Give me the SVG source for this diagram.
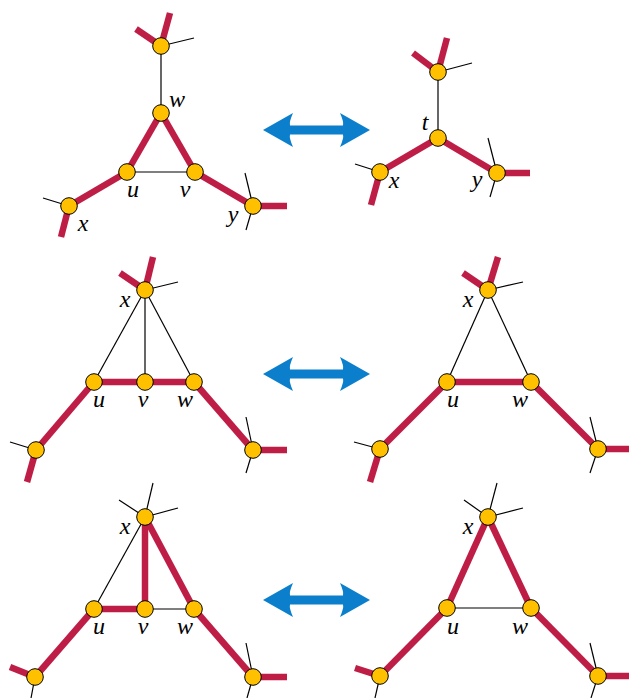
<svg xmlns="http://www.w3.org/2000/svg" width="629" height="698" viewBox="0 0 629 698">
<style>
.r{stroke:#BE1E46;stroke-width:6.5;fill:none;stroke-linecap:butt}
.k{stroke:#000;stroke-width:1.2;fill:none}
.n{fill:#FFC000;stroke:#000;stroke-width:1}
text{font-family:'Liberation Serif','Times New Roman',serif;font-style:italic;font-size:24px;fill:#000;text-anchor:middle}
.a{fill:#0B7FCC}
</style>
<defs>
<path id="arr" class="a" d="M0,0 L30,-17 Q26,-8 27,-4.5 L80,-4.5 Q81,-8 77,-17 L107,0 L77,17 Q81,8 80,4.5 L27,4.5 Q26,8 30,17 Z"/>
</defs>
<rect width="629" height="698" fill="#fff"/>

<g id="connectors">
<line class="k" x1="161" y1="46" x2="161" y2="113"/>
<line class="k" x1="161" y1="46" x2="194" y2="38"/>
<line class="k" x1="127" y1="172" x2="195" y2="172"/>
<line class="k" x1="69" y1="206" x2="43" y2="198"/>
<line class="k" x1="253" y1="206" x2="245" y2="173"/>
<line class="k" x1="253" y1="206" x2="246" y2="230"/>
<line class="r" x1="161" y1="46" x2="136" y2="29"/>
<line class="r" x1="161" y1="46" x2="170" y2="13"/>
<line class="r" x1="161" y1="113" x2="127" y2="172"/>
<line class="r" x1="161" y1="113" x2="195" y2="172"/>
<line class="r" x1="127" y1="172" x2="69" y2="206"/>
<line class="r" x1="195" y1="172" x2="253" y2="206"/>
<line class="r" x1="69" y1="206" x2="61" y2="237"/>
<line class="r" x1="253" y1="206" x2="287" y2="206"/>
<line class="k" x1="438" y1="72" x2="438" y2="138"/>
<line class="k" x1="438" y1="72" x2="472" y2="63"/>
<line class="k" x1="380" y1="172" x2="355" y2="164"/>
<line class="k" x1="497" y1="173" x2="488" y2="138"/>
<line class="k" x1="497" y1="173" x2="490" y2="197"/>
<line class="r" x1="438" y1="72" x2="413" y2="53"/>
<line class="r" x1="438" y1="72" x2="447" y2="38"/>
<line class="r" x1="438" y1="138" x2="380" y2="172"/>
<line class="r" x1="438" y1="138" x2="497" y2="173"/>
<line class="r" x1="380" y1="172" x2="371" y2="205"/>
<line class="r" x1="497" y1="173" x2="530" y2="173"/>
<line class="k" x1="145" y1="290" x2="94" y2="382"/>
<line class="k" x1="145" y1="290" x2="145" y2="382"/>
<line class="k" x1="145" y1="290" x2="194" y2="382"/>
<line class="k" x1="145" y1="290" x2="178" y2="282"/>
<line class="k" x1="36" y1="450" x2="10" y2="442"/>
<line class="k" x1="253" y1="450" x2="246" y2="417"/>
<line class="k" x1="253" y1="450" x2="246" y2="473"/>
<line class="r" x1="145" y1="290" x2="120" y2="273"/>
<line class="r" x1="145" y1="290" x2="153" y2="257"/>
<line class="r" x1="94" y1="382" x2="194" y2="382"/>
<line class="r" x1="94" y1="382" x2="36" y2="450"/>
<line class="r" x1="194" y1="382" x2="253" y2="450"/>
<line class="r" x1="36" y1="450" x2="27" y2="482"/>
<line class="r" x1="253" y1="450" x2="287" y2="450"/>
<line class="k" x1="488" y1="290" x2="447" y2="382"/>
<line class="k" x1="488" y1="290" x2="531" y2="382"/>
<line class="k" x1="488" y1="290" x2="523" y2="282"/>
<line class="k" x1="380" y1="449" x2="354" y2="442"/>
<line class="k" x1="598" y1="449" x2="590" y2="417"/>
<line class="k" x1="598" y1="449" x2="590" y2="473"/>
<line class="r" x1="488" y1="290" x2="463" y2="273"/>
<line class="r" x1="488" y1="290" x2="498" y2="257"/>
<line class="r" x1="447" y1="382" x2="531" y2="382"/>
<line class="r" x1="447" y1="382" x2="380" y2="449"/>
<line class="r" x1="531" y1="382" x2="598" y2="449"/>
<line class="r" x1="380" y1="449" x2="370" y2="482"/>
<line class="r" x1="598" y1="449" x2="629" y2="449"/>
<line class="k" x1="145" y1="517" x2="94" y2="609"/>
<line class="k" x1="145" y1="609" x2="194" y2="609"/>
<line class="k" x1="145" y1="517" x2="119" y2="500"/>
<line class="k" x1="145" y1="517" x2="153" y2="483"/>
<line class="k" x1="145" y1="517" x2="178" y2="508"/>
<line class="k" x1="35" y1="677" x2="31" y2="698"/>
<line class="k" x1="253" y1="677" x2="246" y2="643"/>
<line class="k" x1="253" y1="677" x2="247" y2="698"/>
<line class="r" x1="145" y1="517" x2="145" y2="609"/>
<line class="r" x1="145" y1="517" x2="194" y2="609"/>
<line class="r" x1="94" y1="609" x2="145" y2="609"/>
<line class="r" x1="94" y1="609" x2="35" y2="677"/>
<line class="r" x1="194" y1="609" x2="253" y2="677"/>
<line class="r" x1="35" y1="677" x2="10" y2="667"/>
<line class="r" x1="253" y1="677" x2="287" y2="677"/>
<line class="k" x1="447" y1="608" x2="531" y2="608"/>
<line class="k" x1="488" y1="517" x2="464" y2="500"/>
<line class="k" x1="488" y1="517" x2="497" y2="483"/>
<line class="k" x1="488" y1="517" x2="523" y2="508"/>
<line class="k" x1="380" y1="676" x2="375" y2="698"/>
<line class="k" x1="598" y1="676" x2="590" y2="643"/>
<line class="k" x1="598" y1="676" x2="591" y2="698"/>
<line class="r" x1="488" y1="517" x2="447" y2="608"/>
<line class="r" x1="488" y1="517" x2="531" y2="608"/>
<line class="r" x1="447" y1="608" x2="380" y2="676"/>
<line class="r" x1="531" y1="608" x2="598" y2="676"/>
<line class="r" x1="380" y1="676" x2="355" y2="668"/>
<line class="r" x1="598" y1="676" x2="629" y2="676"/>
<use href="#arr" x="263" y="130"/>
<use href="#arr" x="263" y="374"/>
<use href="#arr" x="263" y="600"/>
</g>

<g id="p1-top"><circle class="n" cx="161" cy="46" r="8.3"/></g>
<g id="p1-w"><circle class="n" cx="161" cy="113" r="8.3"/><text x="177" y="107">w</text></g>
<g id="p1-u"><circle class="n" cx="127" cy="172" r="8.3"/><text x="133" y="197">u</text></g>
<g id="p1-v"><circle class="n" cx="195" cy="172" r="8.3"/><text x="185" y="197">v</text></g>
<g id="p1-x"><circle class="n" cx="69" cy="206" r="8.3"/><text x="83" y="231">x</text></g>
<g id="p1-y"><circle class="n" cx="253" cy="206" r="8.3"/><text x="233" y="222">y</text></g>

<g id="p2-top"><circle class="n" cx="438" cy="72" r="8.3"/></g>
<g id="p2-t"><circle class="n" cx="438" cy="138" r="8.3"/><text x="425" y="130">t</text></g>
<g id="p2-x"><circle class="n" cx="380" cy="172" r="8.3"/><text x="394" y="188">x</text></g>
<g id="p2-y"><circle class="n" cx="497" cy="173" r="8.3"/><text x="477" y="187">y</text></g>

<g id="p3-x"><circle class="n" cx="145" cy="290" r="8.3"/><text x="125" y="307">x</text></g>
<g id="p3-u"><circle class="n" cx="94" cy="382" r="8.3"/><text x="99" y="407">u</text></g>
<g id="p3-v"><circle class="n" cx="145" cy="382" r="8.3"/><text x="143" y="407">v</text></g>
<g id="p3-w"><circle class="n" cx="194" cy="382" r="8.3"/><text x="185" y="407">w</text></g>
<g id="p3-a"><circle class="n" cx="36" cy="450" r="8.3"/></g>
<g id="p3-b"><circle class="n" cx="253" cy="450" r="8.3"/></g>

<g id="p4-x"><circle class="n" cx="488" cy="290" r="8.3"/><text x="468" y="307">x</text></g>
<g id="p4-u"><circle class="n" cx="447" cy="382" r="8.3"/><text x="453" y="407">u</text></g>
<g id="p4-w"><circle class="n" cx="531" cy="382" r="8.3"/><text x="520" y="407">w</text></g>
<g id="p4-a"><circle class="n" cx="380" cy="449" r="8.3"/></g>
<g id="p4-b"><circle class="n" cx="598" cy="449" r="8.3"/></g>

<g id="p5-x"><circle class="n" cx="145" cy="517" r="8.3"/><text x="125" y="534">x</text></g>
<g id="p5-u"><circle class="n" cx="94" cy="609" r="8.3"/><text x="99" y="634">u</text></g>
<g id="p5-v"><circle class="n" cx="145" cy="609" r="8.3"/><text x="143" y="634">v</text></g>
<g id="p5-w"><circle class="n" cx="194" cy="609" r="8.3"/><text x="185" y="634">w</text></g>
<g id="p5-a"><circle class="n" cx="35" cy="677" r="8.3"/></g>
<g id="p5-b"><circle class="n" cx="253" cy="677" r="8.3"/></g>

<g id="p6-x"><circle class="n" cx="488" cy="517" r="8.3"/><text x="468" y="534">x</text></g>
<g id="p6-u"><circle class="n" cx="447" cy="608" r="8.3"/><text x="453" y="634">u</text></g>
<g id="p6-w"><circle class="n" cx="531" cy="608" r="8.3"/><text x="520" y="634">w</text></g>
<g id="p6-a"><circle class="n" cx="380" cy="676" r="8.3"/></g>
<g id="p6-b"><circle class="n" cx="598" cy="676" r="8.3"/></g>
</svg>
